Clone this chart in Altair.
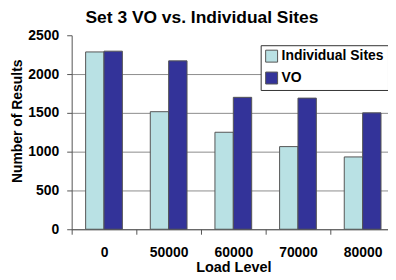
import altair as alt
import pandas as pd

loads = ["0", "50000", "60000", "70000", "80000"]
series = ["Individual Sites", "VO"]
individual = [2285, 1515, 1250, 1065, 932]
vo = [2295, 2170, 1700, 1690, 1500]
y_ticks = [0, 500, 1000, 1500, 2000, 2500]
colors = ["#B9E1E4", "#333399"]

rows = []
for i, l in enumerate(loads):
    rows.append({"load": l, "series": series[0], "value": individual[i]})
    rows.append({"load": l, "series": series[1], "value": vo[i]})
df = pd.DataFrame(rows)

FONT = "Liberation Sans"

chart = alt.Chart(df).mark_bar(stroke="#555555", strokeWidth=1).encode(
    x=alt.X("load:N", sort=loads, title="Load Level",
            scale=alt.Scale(range=[0, 325], paddingInner=0, paddingOuter=0),
            axis=alt.Axis(labelAngle=0, tickBand="extent", tickSize=5,
                          labelPadding=11, titlePadding=1, labelFontSize=14,
                          titleFontSize=14.5, domainColor="#555555",
                          tickColor="#555555", titleX=162.5)),
    xOffset=alt.XOffset("series:N", sort=series,
                        scale=alt.Scale(paddingInner=0, paddingOuter=0.76)),
    y=alt.Y("value:Q", title="Number of Results",
            scale=alt.Scale(domain=[0, 2500], nice=False),
            axis=alt.Axis(values=y_ticks, format="d", tickSize=5, labelPadding=8,
                          labelFontSize=14, titleFontSize=14,
                          domainColor="#555555", tickColor="#555555",
                          gridColor="#8c8c8c",
                          gridOpacity={"condition": {"test": "datum.value === 2500", "value": 0}, "value": 1},
                          titleY=86, titleX=-54, titleBaseline="middle")),
    color=alt.Color("series:N", sort=series,
                    scale=alt.Scale(domain=series, range=colors),
                    legend=alt.Legend(title=None, orient="none", legendX=190, legendY=10,
                                      symbolType="square", symbolSize=144,
                                      symbolStrokeColor="#555555", symbolStrokeWidth=1,
                                      labelFontSize=14, labelFont=FONT, labelFontWeight="bold",
                                      rowPadding=6, padding=4, labelOffset=3,
                                      strokeColor="#333333", fillColor="white")),
).properties(
    width=318, height=195,
    title=alt.TitleParams("Set 3 VO vs. Individual Sites", fontSize=17.5,
                          fontWeight="bold", font=FONT, anchor="middle", dx=-28, offset=2),
    autosize=alt.AutoSizeParams(type="none"),
    padding={"left": 64, "top": 26.7, "right": 0, "bottom": 50},
).configure_view(stroke=None).configure_axis(
    labelFont=FONT, titleFont=FONT, labelFontWeight="bold", titleFontWeight="bold",
    labelColor="black", titleColor="black", grid=False
).configure_axisY(grid=True)

chart.save("out.html", embed_options={"renderer": "svg", "actions": False})
